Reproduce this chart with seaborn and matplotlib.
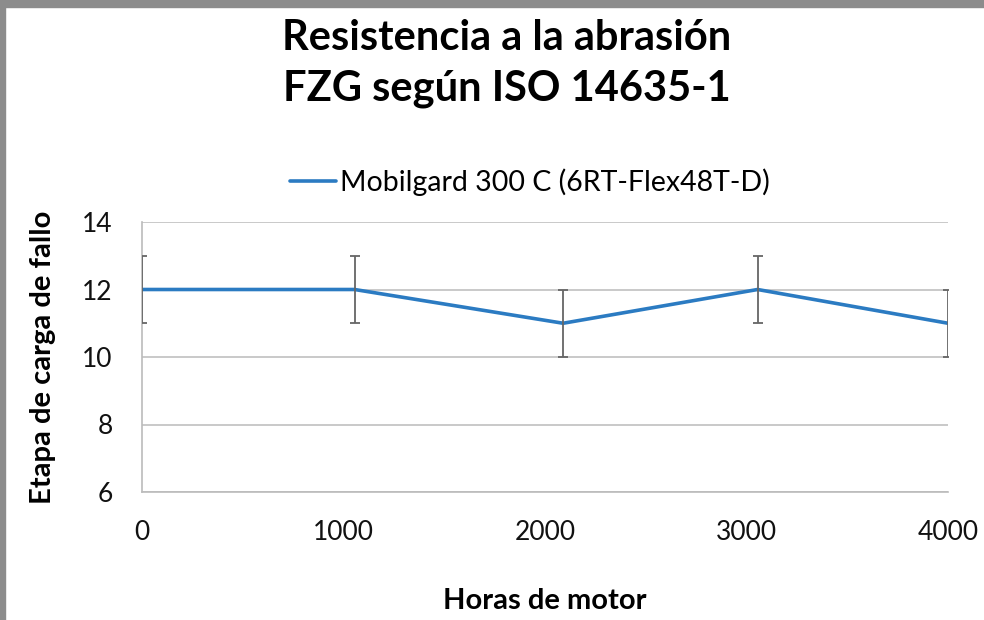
import matplotlib
matplotlib.use("Agg")
import matplotlib.pyplot as plt
import seaborn as sns
import pandas as pd
from matplotlib.patches import Rectangle
from matplotlib.lines import Line2D

horas = [0, 1055, 2090, 3055, 4000]
etapa = [12, 12, 11, 12, 11]
error = [1, 1, 1, 1, 1]
serie = "Mobilgard 300 C (6RT-Flex48T-D)"
yticks = [6, 8, 10, 12, 14]
xticks = [0, 1000, 2000, 3000, 4000]

df = pd.DataFrame({"Horas de motor": horas, "Etapa": etapa, "Serie": serie})

sns.set_theme(style="white")
plt.rcParams['font.family'] = ['Lato', 'DejaVu Sans']
plt.rcParams['text.color'] = 'black'
plt.rcParams['axes.labelcolor'] = 'black'

fig = plt.figure(figsize=(9.84, 6.2), dpi=100)
ax = fig.add_axes([142/984, 1-492/620, (948-142)/984, (492-222)/620])

blue = "#2B7BC2"
sns.lineplot(data=df, x="Horas de motor", y="Etapa", hue="Serie", palette=[blue],
             ax=ax, linewidth=2.6, legend=False, zorder=3)
ax.errorbar(horas, etapa, yerr=error, fmt='none', ecolor="#666666",
            elinewidth=1.3, capsize=3.6, capthick=1.3, zorder=4)

ax.set_xlim(0, 4000)
ax.set_ylim(6, 14)
ax.set_xticks(xticks)
ax.set_yticks(yticks)
ax.set_xticklabels([str(t) for t in xticks], fontsize=19)
ax.set_yticklabels([str(t) for t in yticks], fontsize=19)
ax.yaxis.grid(True, color="#C0C0C0", linewidth=1.2)
ax.xaxis.grid(False)
for s in ["top", "right"]:
    ax.spines[s].set_visible(False)
for s in ["left", "bottom"]:
    ax.spines[s].set_color("#BBBBBB")
    ax.spines[s].set_linewidth(1.2)
ax.tick_params(axis="x", direction="out", length=7, width=1.2, color="#BBBBBB",
               pad=13, labelcolor="#111111")
ax.tick_params(axis="y", direction="out", length=7, width=1.2, color="#BBBBBB",
               pad=14, labelcolor="#111111")
ax.set_axisbelow(True)

ax.set_xlabel("Horas de motor", fontsize=21, fontweight="bold", labelpad=31)
ax.set_ylabel("Etapa de carga de fallo", fontsize=21, fontweight="bold", labelpad=19)

fig.text(0.515, 1-38/620, "Resistencia a la abrasión", ha="center", va="center",
         fontsize=30, fontweight="bold")
fig.text(0.515, 1-89/620, "FZG según ISO 14635-1", ha="center", va="center",
         fontsize=30, fontweight="bold")

h = [Line2D([0], [0], color=blue, linewidth=2.6)]
fig.legend(h, [serie], loc="center", bbox_to_anchor=(530/984, 1-182/620),
           frameon=False, fontsize=20.5, handlelength=1.6, handletextpad=0.15)

fig.patches.append(Rectangle((0, 1-7/620), 1, 7/620, transform=fig.transFigure,
                             color="#8C8C8C", zorder=0))
fig.patches.append(Rectangle((0, 0), 5/984, 1, transform=fig.transFigure,
                             color="#8C8C8C", zorder=0))

fig.savefig("out.png", dpi=100)
